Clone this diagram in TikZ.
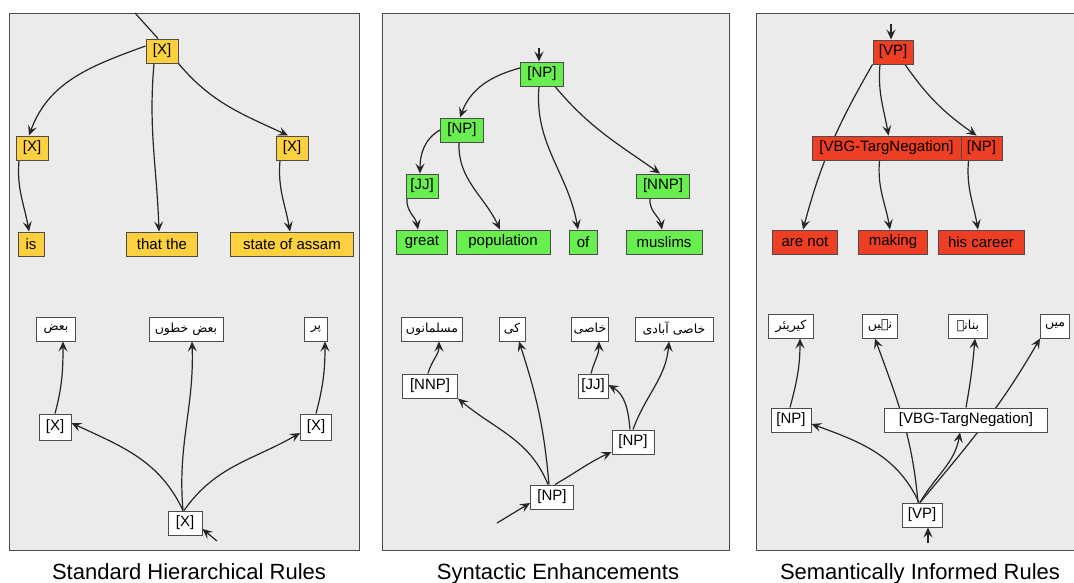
\documentclass[tikz,border=0pt]{standalone}
\usepackage{fontspec}
\setmainfont{Liberation Sans}
\newfontfamily\urdufont[Script=Arabic]{DejaVu Sans}
\TeXXeTstate=1
\usepackage{xcolor}
\usetikzlibrary{arrows.meta}
\definecolor{ruleyellow}{HTML}{FCD03F}
\definecolor{rulegreen}{HTML}{68EE4E}
\definecolor{rulered}{HTML}{EE3E24}
\definecolor{panelgray}{HTML}{EBEBEB}
\definecolor{linkgray}{HTML}{262626}
\pgfdeclarelayer{panel}
\pgfdeclarelayer{links}
\pgfsetlayers{panel,links,main}

\begin{document}
\begin{tikzpicture}[
    x=1pt, y=1pt,
    rulebox/.style={draw=black!70, line width=1pt, minimum height=24pt, inner sep=0pt, font=\fontsize{15}{17}\selectfont},
    ybox/.style={rulebox, fill=ruleyellow},
    gbox/.style={rulebox, fill=rulegreen},
    rbox/.style={rulebox, fill=rulered},
    wbox/.style={rulebox, fill=white},
    ubox/.style={wbox, font=\urdufont\fontsize{12.5}{14}\selectfont},
    panelbox/.style={draw=black!70, line width=1pt, fill=panelgray},
    link/.style={draw=linkgray, line width=1.2pt, -{Stealth[length=10pt, width=9pt, inset=4pt]}},
    plainlink/.style={draw=linkgray, line width=1.2pt},
    paneltitle/.style={anchor=base, font=\fontsize{22}{26}\selectfont},
]
    \useasboundingbox (0,0) rectangle (1074,-582);
    \begin{pgfonlayer}{panel}
        \draw[panelbox] (9,-13) rectangle (359,-550);
        \draw[panelbox] (382,-13) rectangle (729,-550);
        \draw[panelbox] (756,-13) rectangle (1080,-550);
    \end{pgfonlayer}

    \node[paneltitle] (title1) at (189,-579) {Standard Hierarchical Rules};
    \node[paneltitle] (title2) at (558,-579) {Syntactic Enhancements};
    \node[paneltitle] (title3) at (920,-579) {Semantically Informed Rules};

    \node[ybox, minimum width=32] (xtop) at (162,-51) {[X]};
    \node[ybox, minimum width=32] (xleft) at (32,-148) {[X]};
    \node[ybox, minimum width=32] (xright) at (292,-148) {[X]};
    \node[ybox, minimum width=26] (is) at (31,-244) {is};
    \node[ybox, minimum width=71] (thatthe) at (162,-244) {that the};
    \node[ybox, minimum width=123] (state) at (292,-244) {state of assam};
    \node[ubox, minimum width=39] (baz) at (56,-329) {\beginR بعض\endR};
    \node[ubox, minimum width=74] (bazkhat) at (186,-329) {\beginR بعض خطوں\endR};
    \node[ubox, minimum width=23] (par) at (316,-329) {\beginR پر\endR};
    \node[wbox, minimum width=32, minimum height=26] (wxleft) at (55,-427) {[X]};
    \node[wbox, minimum width=31, minimum height=26] (wxright) at (316,-427) {[X]};
    \node[wbox, minimum width=34] (wxroot) at (185,-523) {[X]};
    \coordinate (in1) at (135,-13);
    \coordinate (in2) at (217,-541);

    \node[gbox, minimum width=43] (npa) at (542,-74) {[NP]};
    \node[gbox, minimum width=43] (npb) at (462,-130) {[NP]};
    \node[gbox, minimum width=32] (jj) at (422,-186) {[JJ]};
    \node[gbox, minimum width=53] (nnp) at (663,-186) {[NNP]};
    \node[gbox, minimum width=51] (great) at (422,-242) {great};
    \node[gbox, minimum width=94] (population) at (503,-242) {population};
    \node[gbox, minimum width=28] (of) at (583,-242) {of};
    \node[gbox, minimum width=76] (muslims) at (664,-242) {muslims};
    \node[ubox, minimum width=61] (muslimon) at (432,-329) {\beginR مسلمانوں\endR};
    \node[ubox, minimum width=26] (ki) at (512,-329) {\beginR کی\endR};
    \node[ubox, minimum width=37] (khasi) at (590,-329) {\beginR خاصی\endR};
    \node[ubox, minimum width=78] (khasiabadi) at (674,-329) {\beginR خاصی آبادی\endR};
    \node[wbox, minimum width=55] (wnnp) at (430,-386) {[NNP]};
    \node[wbox, minimum width=30] (wjj) at (593,-386) {[JJ]};
    \node[wbox, minimum width=42] (wnpr) at (633,-442) {[NP]};
    \node[wbox, minimum width=43] (wnproot) at (552,-497) {[NP]};
    \coordinate (in3) at (539,-48);
    \coordinate (in4) at (497,-523);

    \node[rbox, minimum width=40] (vp) at (893,-52) {[VP]};
    \node[rbox, minimum width=149] (vbg) at (886.5,-148) {[VBG-TargNegation]};
    \node[rbox, minimum width=41] (npt) at (981.5,-148) {[NP]};
    \node[rbox, minimum width=65] (arenot) at (805,-242) {are not};
    \node[rbox, minimum width=69] (making) at (893,-242) {making};
    \node[rbox, minimum width=86] (hiscareer) at (981,-242) {his career};
    \node[ubox, minimum width=45] (career) at (791,-326) {\beginR کیریئر\endR};
    \node[ubox, minimum width=35] (nahin) at (880,-326) {\beginR نہیں\endR};
    \node[ubox, minimum width=39] (banane) at (968,-326) {\beginR بنانے\endR};
    \node[ubox, minimum width=29] (mein) at (1055,-326) {\beginR میں\endR};
    \node[wbox, minimum width=40] (wnp3) at (791,-420) {[NP]};
    \node[wbox, minimum width=163] (wvbg) at (966,-420) {[VBG-TargNegation]};
    \node[wbox, minimum width=40] (wvp) at (922,-515) {[VP]};
    \coordinate (in5) at (891,-24);
    \coordinate (in6) at (928,-543);

    \begin{pgfonlayer}{links}
        \draw[plainlink] (in1) -- ([xshift=-4pt]xtop.north);
        \draw[link] ([yshift=5pt]xtop.west) to[out=200, in=70] ([xshift=-3pt]xleft.north);
        \draw[link] ([xshift=-8pt]xtop.south) to[out=265, in=92] ([xshift=-3pt]thatthe.north);
        \draw[link] (xtop.south east) to[out=-50, in=155] ([xshift=-4pt]xright.north);
        \draw[link] ([xshift=-13pt]xleft.south) to[out=265, in=100] ([xshift=-2pt]is.north);
        \draw[link] ([xshift=-12pt]xright.south) to[out=265, in=100] ([xshift=-2pt]state.north);

        \draw[link] (in2) -- ([yshift=-6pt]wxroot.east);
        \draw[link] ([xshift=-2pt]wxroot.north) to[out=115, in=-25] ([yshift=4pt]wxleft.east);
        \draw[link] ([xshift=-2pt]wxroot.north) to[out=95, in=-88] ([xshift=6pt]bazkhat.south);
        \draw[link] ([xshift=-1pt]wxroot.north) to[out=55, in=210] ([yshift=-6pt]wxright.west);
        \draw[link] (wxleft.north) to[out=75, in=-90] ([xshift=7pt]baz.south);
        \draw[link] (wxright.north) to[out=75, in=-90] ([xshift=9pt]par.south);

        \draw[link] (in3) -- ([xshift=-3pt]npa.north);
        \draw[link] ([yshift=6pt]npa.west) to[out=195, in=70] ([xshift=-2pt]npb.north);
        \draw[link] ([xshift=-3pt]npa.south) to[out=265, in=100] ([xshift=-5pt]of.north);
        \draw[link] ([xshift=13pt]npa.south) to[out=-50, in=145] ([xshift=-3pt]nnp.north);
        \draw[link] (npb.west) to[out=210, in=90] ([xshift=-2pt]jj.north);
        \draw[link] ([xshift=-3pt]npb.south) to[out=268, in=115] ([xshift=-3pt]population.north);
        \draw[link] ([xshift=-15pt]jj.south) to[out=265, in=100] ([xshift=-4pt]great.north);
        \draw[link] ([xshift=-13pt]nnp.south) to[out=265, in=100] ([xshift=-2pt]muslims.north);

        \draw[link] (in4) -- ([yshift=-6pt]wnproot.west);
        \draw[link] ([xshift=-4pt]wnproot.north) to[out=112, in=-40] (wnnp.south east);
        \draw[link] ([xshift=-3pt]wnproot.north) to[out=95, in=-72] ([xshift=7pt]ki.south);
        \draw[link] ([xshift=3pt]wnproot.north) to[out=30, in=205] ([yshift=-10pt]wnpr.west);
        \draw[link] ([xshift=-3pt]wnpr.north) to[out=95, in=-30] ([yshift=1pt]wjj.east);
        \draw[link] (wnpr.north) to[out=70, in=-95] ([xshift=-5pt]khasiabadi.south);
        \draw[link] ([xshift=-2pt]wjj.north) to[out=75, in=-90] ([xshift=9pt]khasi.south);
        \draw[link] ([xshift=-2pt]wnnp.north) to[out=75, in=-90] ([xshift=7pt]muslimon.south);

        \draw[link] (in5) -- ([xshift=-2pt]vp.north);
        \draw[link] (vp.south west) to[out=240, in=75] ([xshift=-2pt]arenot.north);
        \draw[link] ([xshift=-13pt]vp.south) to[out=265, in=100] ([xshift=2pt]vbg.north);
        \draw[link] ([xshift=12pt]vp.south) to[out=-55, in=145] ([xshift=-5pt]npt.north);
        \draw[link] ([xshift=-7pt]vbg.south) to[out=265, in=100] ([xshift=-3pt]making.north);
        \draw[link] ([xshift=-13pt]npt.south) to[out=265, in=100] ([xshift=-3pt]hiscareer.north);

        \draw[link] (in6) -- ([xshift=6pt]wvp.south);
        \draw[link] ([xshift=-3pt]wvp.north) to[out=115, in=-20] ([yshift=-4pt]wnp3.east);
        \draw[link] ([xshift=-4pt]wvp.north) to[out=95, in=-70] ([xshift=-5pt]nahin.south);
        \draw[link] ([xshift=-2pt]wvp.north) to[out=60, in=-100] ([xshift=-6pt]wvbg.south);
        \draw[link] ([xshift=-2pt]wvp.north) to[out=50, in=-120] (mein.south west);
        \draw[link] (wvbg.north) to[out=80, in=-95] ([xshift=7pt]banane.south);
        \draw[link] ([xshift=-1pt]wnp3.north) to[out=75, in=-90] ([xshift=9pt]career.south);
    \end{pgfonlayer}
\end{tikzpicture}
\end{document}
